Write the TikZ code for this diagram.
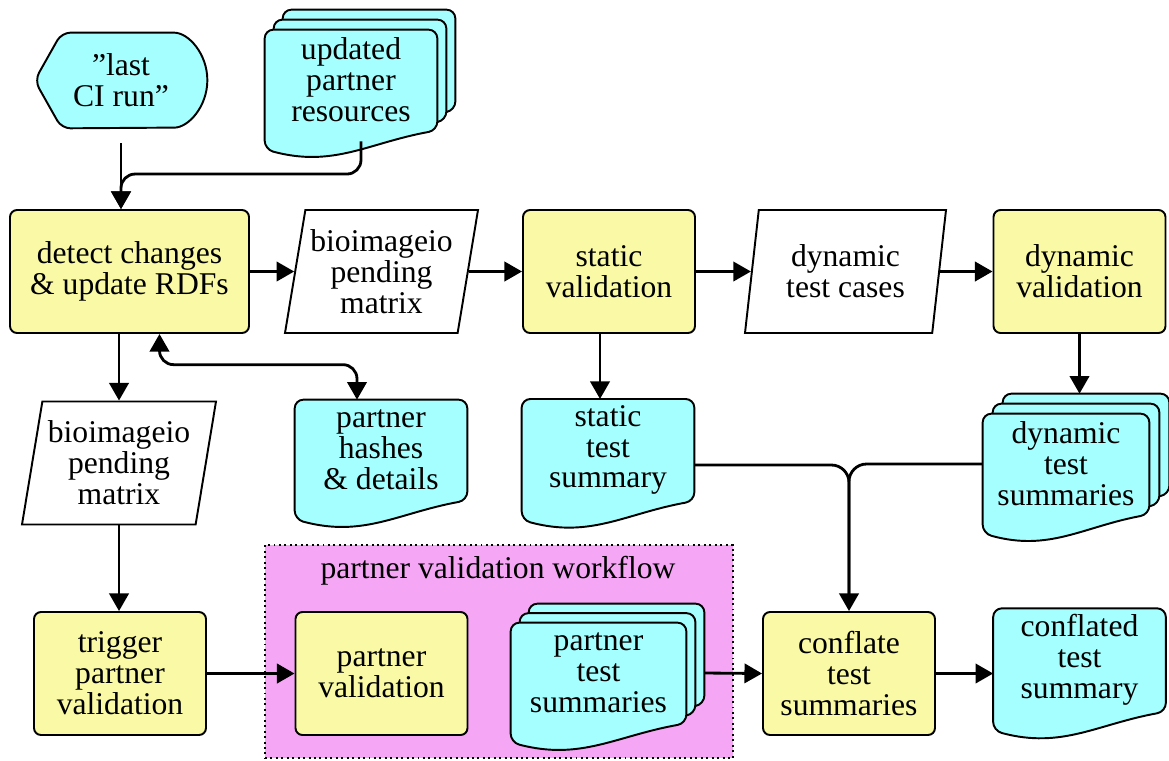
\documentclass[tikz,border=0pt]{standalone}
\usepackage{fontspec}
\setmainfont{Liberation Serif}
\usepackage{tikz}
\usetikzlibrary{calc, shapes.geometric, arrows.meta, backgrounds}
\definecolor{procyellow}{RGB}{250,250,166}
\definecolor{doccyan}{RGB}{166,255,255}
\definecolor{groupmagenta}{RGB}{245,166,245}
\tikzset{
  proc/.style={draw, line width=1.1pt, rounded corners=4pt, fill=procyellow, align=center, minimum width=3.44cm, minimum height=2.46cm},
  data/.style={draw, line width=1.1pt, fill=white, trapezium, trapezium left angle=78, trapezium right angle=102, trapezium stretches body, align=center, inner xsep=0pt, minimum height=2.46cm},
  doc/.style={align=center, minimum width=3.44cm, minimum height=2cm},
  docbox/.style={draw, line width=1.1pt, fill=doccyan, rounded corners=5pt},
  groupbox/.style={draw, dotted, line width=1.1pt, fill=groupmagenta},
  flow/.style={line width=1.6pt}
}
% document outline hanging below the node, optional offset for stacked copies
\newcommand{\docshape}[2][0,0]{%
  \path[docbox] let \p1=($(#2.south west)+(#1)$), \p2=($(#2.north east)+(#1)$),
    \p3=($(#2.south west)!0.6!(#2.south east)+(#1)$), \p4=($(#2.south west)!0.4!(#2.south east)+(#1)$) in
    (\x2,\y1) .. controls (\x3,\y1-0.25cm) and (\x4,\y1-0.75cm) .. (\x1,\y1-0.38cm)
    -- (\x1,\y2) -- (\x2,\y2) -- cycle;}

\begin{document}
\begin{tikzpicture}[font=\fontsize{18}{17.6}\selectfont, >={Triangle[length=10pt,width=11pt]}]
  \useasboundingbox (0,0) rectangle (23.38,-15.2);

  % Nodes
  \node[doc, minimum height=1.9cm] (lastci) at (2.42,-1.61) {''last\\CI run''};
  \node[doc] (upd) at (7.02,-1.6) {updated\\partner\\resources};

  \node[proc, minimum width=4.78cm] (detect) at (2.59,-5.43) {detect changes\\\& update RDFs};
  \node[data, minimum width=3.86cm] (pend) at (7.63,-5.43) {bioimageio\\pending\\matrix};
  \node[proc] (static) at (12.18,-5.43) {static\\validation};
  \node[data, minimum width=4.02cm] (cases) at (16.91,-5.43) {dynamic\\test cases};
  \node[proc] (dynval) at (21.59,-5.43) {dynamic\\validation};

  \node[data, minimum width=3.88cm] (pendb) at (2.38,-9.26) {bioimageio\\pending\\matrix};
  \node[doc] (hashes) at (7.62,-9.0) {partner\\hashes\\\& details};
  \node[doc] (stsum) at (12.16,-9.0) {static\\test\\summary};
  \node[doc, minimum width=3.32cm] (dynsum) at (21.32,-9.28) {dynamic\\test\\summaries};

  \node[proc] (trigger) at (2.4,-13.47) {trigger\\partner\\validation};
  \node (wflabel) at (9.96,-11.42) {partner validation workflow};
  \node[proc] (pval) at (7.63,-13.47) {partner\\validation};
  \node[doc, minimum width=3.5cm] (ptsum) at (11.97,-13.46) {partner\\test\\summaries};
  \node[proc] (conflate) at (16.98,-13.47) {conflate\\test\\summaries};
  \node[doc] (conflated) at (21.59,-13.2) {conflated\\test\\summary};

  % Shapes behind the texts
  \begin{pgfonlayer}{background}
    \node[groupbox, minimum width=9.36cm, minimum height=4.26cm] (workflow) at (9.98,-13.03) {};
    \path[docbox] (lastci.west) -- ([xshift=0.54cm]lastci.north west) -- ([xshift=-0.84cm]lastci.north east)
      arc[start angle=90, end angle=-90, x radius=0.84cm, y radius=0.95cm] -- ([xshift=0.54cm]lastci.south west) -- cycle;
    \docshape[0.36,0.4]{upd}
    \docshape[0.18,0.2]{upd}
    \docshape{upd}
    \docshape{hashes}
    \docshape{stsum}
    \docshape[0.4,0.4]{dynsum}
    \docshape[0.2,0.2]{dynsum}
    \docshape{dynsum}
    \docshape[0.36,0.38]{ptsum}
    \docshape[0.18,0.19]{ptsum}
    \docshape{ptsum}
    \docshape{conflated}
  \end{pgfonlayer}

  % Joints
  \coordinate (cijoin) at ($(lastci.south |- detect.north)+(0,0.7)$);
  \coordinate (hashtop) at ([xshift=-0.48cm]hashes.north);
  \coordinate (hashjoin) at ($(hashtop)+(0,0.7)$);
  \coordinate (dynback) at ($(dynsum.north)+(0.4,0.4)$);

  % Main flow
  \draw[->, flow] ([yshift=-0.3cm]lastci.south) -- (lastci.south |- detect.north);
  \draw[->, flow, rounded corners=8pt] ([xshift=0.2cm,yshift=-0.22cm]upd.south) |- (cijoin) -- (lastci.south |- detect.north);
  \draw[->, flow] (detect) -- (pend);
  \draw[->, flow] (pend) -- (static);
  \draw[->, flow] (static) -- (cases);
  \draw[->, flow] (cases) -- (dynval);
  \draw[->, flow] (detect.south -| pendb.north) -- (pendb.north);
  \draw[<->, flow, rounded corners=8pt] ([xshift=0.6cm]detect.south) |- (hashjoin) -- (hashtop);
  \draw[->, flow] ([xshift=-0.18cm]static.south) -- ([xshift=-0.16cm]stsum.north);
  \draw[->, flow] (dynval.south) -- (dynval.south |- dynback);

  % Summaries
  \draw[->, flow, rounded corners=10pt] ([yshift=-0.3cm]stsum.east) -| (conflate.north);
  \draw[flow, rounded corners=10pt, shorten >=5pt] (dynsum.west) -| (conflate.north);
  \draw[->, flow] (pendb.south) -- (pendb.south |- trigger.north);
  \draw[->, flow] (trigger) -- (pval);
  \draw[->, flow] ([xshift=0.36cm]ptsum.east) -- (conflate.west);
  \draw[->, flow] (conflate.east) -- (conflate.east -| conflated.west);
\end{tikzpicture}
\end{document}
